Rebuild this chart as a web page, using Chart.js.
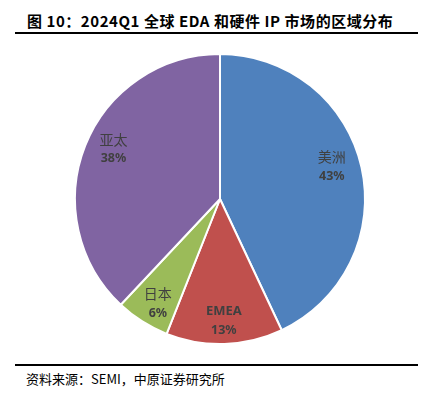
<!DOCTYPE html>
<html>
<head>
<meta charset="utf-8">
<script src="https://cdn.jsdelivr.net/npm/chart.js@4.4.1/dist/chart.umd.min.js"></script>
<style>
  body { margin: 0; background: #fff; width: 443px; height: 394px; position: relative; overflow: hidden; }
  #title { position: absolute; left: 27px; top: 10px; font: bold 15px "Noto Sans CJK SC", sans-serif; color: #000; white-space: nowrap; letter-spacing: 0.55px; }
  #topline { position: absolute; left: 15px; top: 32px; width: 403px; height: 2px; background: #000; }
  #botline { position: absolute; left: 15px; top: 364px; width: 403px; height: 2px; background: #000; }
  #source { position: absolute; left: 26px; top: 369px; font: 13px "Noto Sans CJK SC", sans-serif; color: #000; white-space: nowrap; }
  #wrap { position: absolute; left: 0; top: 39px; width: 443px; height: 320px; }
</style>
</head>
<body>
<div id="title">图 10：2024Q1 全球 EDA 和硬件 IP 市场的区域分布</div>
<div id="topline"></div>
<div id="wrap"><canvas id="myChart"></canvas></div>
<div id="botline"></div>
<div id="source">资料来源：SEMI，中原证券研究所</div>
<script>
const regions = ['美洲', 'EMEA', '日本', '亚太'];
const shares = [43, 13, 6, 38];
const colors = ['#4f81bd', '#c0504d', '#9bbb59', '#8064a2'];

const ctx = document.getElementById('myChart');

// where the label sits inside its slice (fraction of radius) and a small vertical nudge
const labelRadius = [0.79, 0.84, 0.8, 0.79];
const labelNudge = [-8, 0, 6, -8];

const sliceLabels = {
    id: 'sliceLabels',
    afterDatasetsDraw(chart) {
        const c = chart.ctx;
        const meta = chart.getDatasetMeta(0);
        meta.data.forEach((arc, i) => {
            const p = arc.getProps(['x', 'y', 'startAngle', 'endAngle', 'outerRadius'], true);
            const mid = (p.startAngle + p.endAngle) / 2;
            const r = p.outerRadius * labelRadius[i];
            const x = p.x + Math.cos(mid) * r;
            const y = p.y + Math.sin(mid) * r + labelNudge[i];
            c.save();
            c.fillStyle = '#404040';
            c.textAlign = 'center';
            c.textBaseline = 'middle';
            c.font = regions[i] === 'EMEA' ? 'bold 13px "Noto Sans", sans-serif' : '14px "Noto Sans CJK SC", sans-serif';
            c.fillText(regions[i], x, y - 9);
            c.font = 'bold 12.5px "Noto Sans", sans-serif';
            c.fillText(shares[i] + '%', x, y + 10);
            c.restore();
        });
    }
};

new Chart(ctx, {
    type: 'pie',
    data: {
        labels: regions,
        datasets: [{
            data: shares,
            backgroundColor: colors,
            borderColor: '#ffffff',
            borderWidth: 2
        }]
    },
    options: {
        responsive: true,
        maintainAspectRatio: false,
        animation: false,
        layout: { padding: { top: 14, bottom: 14, left: 0, right: 3 } },
        plugins: {
            legend: { display: false },
            tooltip: { enabled: false }
        }
    },
    plugins: [sliceLabels]
});
</script>
</body>
</html>
